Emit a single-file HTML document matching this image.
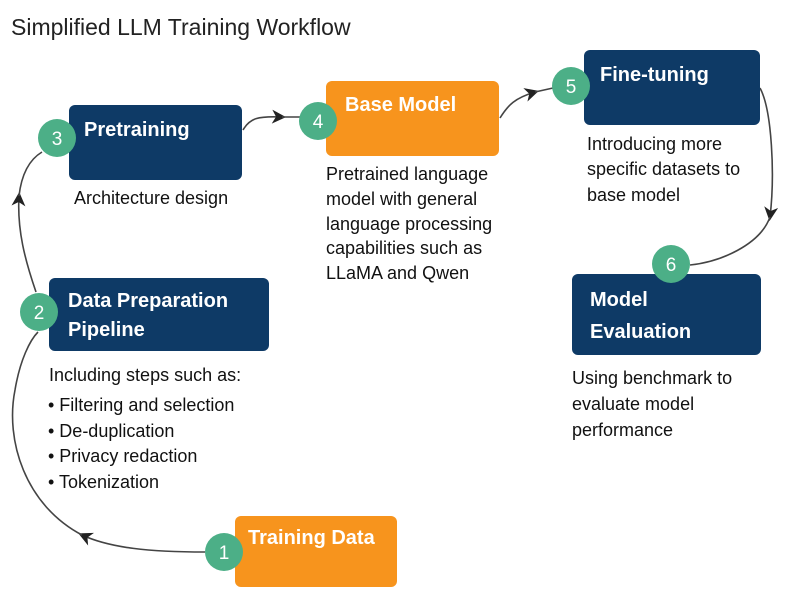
<!DOCTYPE html>
<html><head><meta charset="utf-8"><style>
html,body{margin:0;padding:0;background:#fff;}
svg{display:block;font-family:"Liberation Sans",sans-serif;}
.bt{font-weight:bold;fill:#fff;font-size:20px;}
.d{fill:#111;font-size:18px;}
.n{fill:#fff;font-size:19px;text-anchor:middle;}
</style></head><body>
<svg width="786" height="590" viewBox="0 0 786 590">
<defs><marker id="a" markerWidth="14" markerHeight="14" refX="10" refY="7" orient="auto" markerUnits="userSpaceOnUse">
<path d="M0,0 L14,7 L0,14 L4,7 Z" fill="#222"/></marker></defs>
<text x="11" y="35" font-size="23" fill="#222">Simplified LLM Training Workflow</text>
<g fill="none" stroke="#444" stroke-width="1.6">
<path d="M205,552 C150,552 110,548 82,535" marker-end="url(#a)"/>
<path d="M82,535 C25,505 5,440 15,390 C20,360 30,340 38,332"/>
<path d="M36,292 C25,260 17,230 19,196" marker-end="url(#a)"/>
<path d="M19,196 C22,170 32,158 42,152"/>
<path d="M243,130 C250,118 258,116 282,117" marker-end="url(#a)"/>
<path d="M282,117 L300,117"/>
<path d="M500,118 C508,105 515,98 535,92" marker-end="url(#a)"/>
<path d="M535,92 L553,88"/>
<path d="M760,88 C772,110 775,175 770,217" marker-end="url(#a)"/>
<path d="M770,217 C760,245 720,262 690,265"/>
</g>
<rect x="69" y="105" width="173" height="75" rx="6" fill="#0e3a66"/>
<rect x="326" y="81" width="173" height="75" rx="6" fill="#f7941d"/>
<rect x="584" y="50" width="176" height="75" rx="6" fill="#0e3a66"/>
<rect x="572" y="274" width="189" height="81" rx="6" fill="#0e3a66"/>
<rect x="49" y="278" width="220" height="73" rx="6" fill="#0e3a66"/>
<rect x="235" y="516" width="162" height="71" rx="6" fill="#f7941d"/>
<text class="bt" x="84" y="136">Pretraining</text>
<text class="bt" x="345" y="111">Base Model</text>
<text class="bt" x="600" y="81">Fine-tuning</text>
<text class="bt" x="590" y="306" font-size="21">Model</text>
<text class="bt" x="590" y="338" font-size="21">Evaluation</text>
<text class="bt" x="68" y="307">Data Preparation</text>
<text class="bt" x="68" y="336">Pipeline</text>
<text class="bt" x="248" y="544">Training Data</text>
<g fill="#4caf87">
<circle cx="57" cy="138" r="19"/><circle cx="318" cy="121" r="19"/>
<circle cx="571" cy="86" r="19"/><circle cx="671" cy="264" r="19"/>
<circle cx="39" cy="312" r="19"/><circle cx="224" cy="552" r="19"/>
</g>
<text class="n" x="57" y="145">3</text><text class="n" x="318" y="128">4</text>
<text class="n" x="571" y="93">5</text><text class="n" x="671" y="271">6</text>
<text class="n" x="39" y="319">2</text><text class="n" x="224" y="559">1</text>
<text class="d" x="74" y="204">Architecture design</text>
<text class="d" x="326" y="180">Pretrained language</text>
<text class="d" x="326" y="205">model with general</text>
<text class="d" x="326" y="230">language processing</text>
<text class="d" x="326" y="254">capabilities such as</text>
<text class="d" x="326" y="279">LLaMA and Qwen</text>
<text class="d" x="587" y="150">Introducing more</text>
<text class="d" x="587" y="175">specific datasets to</text>
<text class="d" x="587" y="201">base model</text>
<text class="d" x="572" y="384">Using benchmark to</text>
<text class="d" x="572" y="410">evaluate model</text>
<text class="d" x="572" y="436">performance</text>
<text class="d" x="49" y="381">Including steps such as:</text>
<text class="d" x="48" y="411">•  Filtering and selection</text>
<text class="d" x="48" y="437">•  De-duplication</text>
<text class="d" x="48" y="462">•  Privacy redaction</text>
<text class="d" x="48" y="488">•  Tokenization</text>
</svg>
</body></html>
